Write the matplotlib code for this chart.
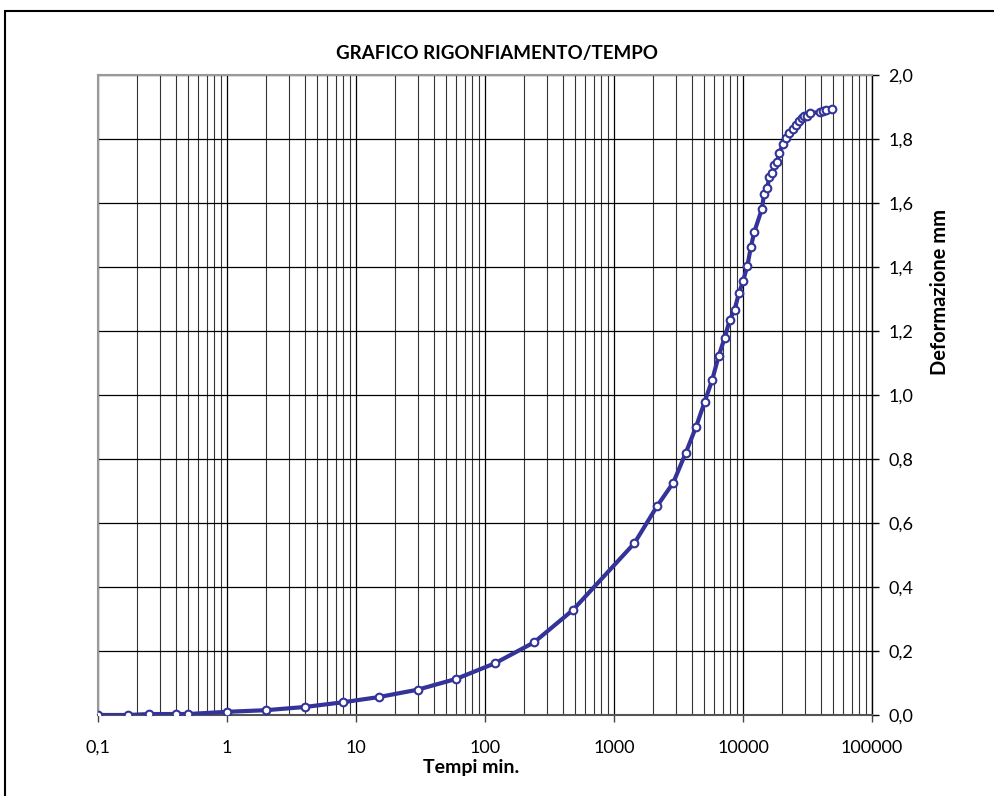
import matplotlib.pyplot as plt
from matplotlib.patches import Rectangle
from matplotlib.ticker import FixedLocator, FuncFormatter, LogLocator, NullFormatter

# time (min) and swelling (mm)
tempi = [0.1, 0.17, 0.25, 0.4, 0.5, 1, 2, 4, 8, 15, 30, 60, 120, 240, 480,
         1440, 2160, 2880, 3600, 4320, 5040, 5760, 6480, 7200, 7900, 8600,
         9300, 10000, 10800, 11500, 12200, 14000, 14550, 15400, 16000, 16800,
         17500, 18400, 19000, 20400, 21500, 22900, 24300, 25700, 27200, 28500,
         29700, 31100, 33000, 39500, 41500, 44000, 48600]
deform = [0.0, 0.0, 0.003, 0.003, 0.003, 0.01, 0.015, 0.025, 0.04, 0.056,
          0.079, 0.113, 0.162, 0.227, 0.328, 0.537, 0.653, 0.726, 0.819, 0.9,
          0.978, 1.046, 1.122, 1.178, 1.235, 1.267, 1.318, 1.356, 1.402, 1.462,
          1.508, 1.581, 1.627, 1.648, 1.68, 1.694, 1.72, 1.729, 1.755, 1.783,
          1.804, 1.82, 1.83, 1.843, 1.856, 1.867, 1.873, 1.872, 1.88, 1.885,
          1.887, 1.89, 1.893]

x_ticks = [0.1, 1, 10, 100, 1000, 10000, 100000]
y_ticks = [0.0, 0.2, 0.4, 0.6, 0.8, 1.0, 1.2, 1.4, 1.6, 1.8, 2.0]

plt.rcParams['font.family'] = ['Lato', 'DejaVu Sans']

fig = plt.figure(figsize=(9.94, 7.96), dpi=100)
# outer chart border (runs off the right and bottom edges)
fig.patches.append(Rectangle((5 / 994, -0.1), 1.2, 1.1 - 11 / 796,
                             transform=fig.transFigure, fill=False,
                             edgecolor='black', linewidth=1.5))

ax = fig.add_axes([98 / 994, 81 / 796, 774 / 994, 640 / 796])
ax.plot(tempi, deform, color='#333399', linewidth=3, marker='o',
        markersize=5.5, markerfacecolor='white', markeredgecolor='#333399',
        markeredgewidth=1.5, zorder=3)

ax.set_xscale('log')
ax.set_xlim(0.1, 100000)
ax.set_ylim(0, 2.0)

ax.xaxis.set_major_locator(FixedLocator(x_ticks))
ax.xaxis.set_major_formatter(FuncFormatter(lambda v, p: ('%g' % v).replace('.', ',')))
ax.xaxis.set_minor_locator(LogLocator(base=10, subs=range(2, 10)))
ax.xaxis.set_minor_formatter(NullFormatter())
ax.yaxis.set_major_locator(FixedLocator(y_ticks))
ax.yaxis.set_major_formatter(FuncFormatter(lambda v, p: ('%.1f' % v).replace('.', ',')))

ax.yaxis.tick_right()
ax.tick_params(axis='y', direction='out', length=5, width=1, labelsize=13, pad=7)
ax.tick_params(axis='x', which='major', direction='out', length=5, width=1,
               labelsize=13, pad=13, color='#444444')
ax.tick_params(axis='x', which='minor', length=0)

ax.grid(True, which='major', axis='both', color='black', linewidth=0.9)
ax.grid(True, which='minor', axis='x', color='#333333', linewidth=0.8)

for side in ['top', 'left']:
    ax.spines[side].set_color('#999999')
    ax.spines[side].set_linewidth(1.5)
ax.spines['bottom'].set_color('#555555')
ax.spines['bottom'].set_linewidth(1.5)
ax.spines['right'].set_color('black')
ax.spines['right'].set_linewidth(1)

fig.text(0.5, 1 - 54 / 796, 'GRAFICO RIGONFIAMENTO/TEMPO', ha='center',
         va='center', fontsize=13.5, fontweight='bold')
fig.text(471 / 994, 1 - 767 / 796, 'Tempi min.', ha='center', va='center',
         fontsize=14, fontweight='bold')
fig.text(940 / 994, 1 - 292 / 796, 'Deformazione mm', ha='center', va='center',
         rotation=90, fontsize=14.5, fontweight='bold')

fig.savefig('out.png', dpi=100)
